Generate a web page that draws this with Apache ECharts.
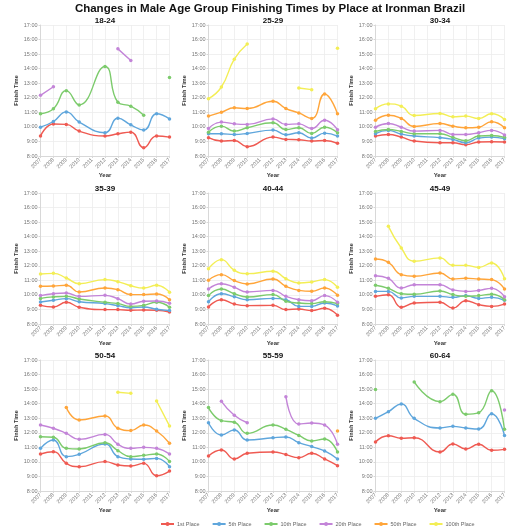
<!DOCTYPE html>
<html><head><meta charset="utf-8">
<script src="https://cdn.jsdelivr.net/npm/echarts@6/dist/echarts.min.js"></script>
<style>html,body{margin:0;padding:0;background:#fff}#c{width:530px;height:530px}</style>
</head><body><div id="c"></div>
<script>
const TITLE = 'Changes in Male Age Group Finishing Times by Place at Ironman Brazil';
const AGE_GROUPS = ['18-24','25-29','30-34','35-39','40-44','45-49','50-54','55-59','60-64'];
const PLACES = ['1st Place','5th Place','10th Place','20th Place','50th Place','100th Place'];
const COLORS = ['#ef5a52','#5fa6dc','#7ccb6c','#c384d8','#ffa53a','#f3ee55'];
const YEAR_TICKS = [2007,2008,2009,2010,2011,2012,2013,2014,2015,2016,2017];
// years with results (no race data in 2011)
const RACE_YEARS = [2007,2008,2009,2010,2012,2013,2014,2015,2016,2017];
const Y_TICKS = [8,9,10,11,12,13,14,15,16,17];

// finish times in hours, rows = places (1st,5th,10th,20th,50th,100th), columns = RACE_YEARS
const T_18_24 = [
  [9.37,10.2,10.17,9.71,9.37,9.53,9.64,8.57,9.37,9.3],
  [9.98,10.37,11.03,10.33,9.6,10.6,10.14,9.78,10.9,10.55],
  [10.9,11.24,12.49,11.51,14.15,11.69,11.42,10.8,null,13.4],
  [12.17,12.76,null,null,null,15.36,14.56,null,null,null],
  [null,null,null,null,null,null,null,null,null,null],
  [null,null,null,null,null,null,null,null,null,null]
];
const T_25_29 = [
  [9.26,9.03,9.07,8.64,9.3,9.14,9.12,9.03,9.07,8.87],
  [9.53,9.53,9.48,9.55,9.78,9.46,9.6,9.23,9.57,9.37],
  [9.64,10.05,9.71,9.94,10.28,9.82,9.94,9.55,9.98,9.6],
  [9.89,10.33,10.21,10.17,10.55,10.17,10.21,9.89,10.46,9.8],
  [10.74,11.01,11.31,11.26,11.76,11.26,10.96,10.58,12.26,10.9],
  [11.94,12.74,14.65,15.7,null,null,12.67,12.56,null,15.4]
];
const T_30_34 = [
  [9.37,9.48,9.3,9.03,8.91,8.91,8.78,8.96,8.98,8.96],
  [9.53,9.76,9.51,9.37,9.26,9.14,8.91,9.23,9.3,9.19],
  [9.69,9.82,9.69,9.53,9.53,9.28,9.05,9.37,9.41,9.28],
  [9.98,10.23,9.98,9.71,9.76,9.48,9.48,9.6,9.76,9.44],
  [10.46,10.8,10.58,10.03,10.23,10.05,9.94,9.98,10.35,9.94],
  [11.24,11.58,11.42,10.78,10.92,10.69,10.74,10.58,10.9,10.51]
];
const T_35_39 = [
  [9.28,9.17,9.49,9.15,8.99,8.99,8.94,8.96,8.94,8.82],
  [9.51,9.63,9.74,9.53,9.4,9.26,9.12,9.17,9.01,8.92],
  [9.76,9.86,9.9,9.72,9.49,9.4,9.21,9.28,9.49,9.15],
  [9.95,10.08,10.13,9.9,9.97,9.74,9.37,9.56,9.58,9.42],
  [10.59,10.61,10.66,10.2,10.47,10.36,10.02,10.02,10.06,9.67],
  [11.44,11.48,11.16,10.77,11.05,10.91,10.63,10.47,10.66,10.18]
];
const T_40_44 = [
  [9.17,9.67,9.37,9.26,9.28,8.99,9.03,8.92,9.08,8.6],
  [9.53,10.08,9.88,9.67,9.76,9.67,9.21,9.21,9.44,9.24],
  [9.95,10.4,10.08,9.86,10.02,9.56,9.44,9.4,9.53,9.4],
  [10.4,10.77,10.52,10.2,10.31,9.9,9.67,9.6,9.95,9.49],
  [11.0,11.39,10.98,10.75,11.09,10.59,10.31,10.25,10.47,9.97],
  [11.8,12.42,11.69,11.46,11.62,11.11,10.82,10.89,11.05,10.52]
];
const T_45_49 = [
  [9.9,10.01,9.15,9.44,9.49,9.1,9.6,9.33,9.21,9.37],
  [10.24,10.24,9.79,9.9,9.9,9.83,9.95,9.76,9.83,9.63],
  [10.66,10.45,10.08,10.04,10.27,10.02,9.9,9.95,10.04,9.67],
  [11.32,11.14,10.47,10.7,10.7,10.34,10.24,10.31,10.45,9.88],
  [12.47,12.24,11.39,11.28,11.5,11.09,11.14,11.09,11.05,10.4],
  [null,14.71,13.22,12.31,12.54,12.03,12.03,11.89,12.19,11.11]
];
const T_50_54 = [
  [10.54,10.7,9.9,9.67,10.02,9.79,9.72,9.9,9.05,9.37],
  [10.93,11.5,10.36,10.52,11.23,10.36,10.2,10.18,10.24,9.67],
  [11.73,11.69,10.93,10.89,11.32,10.77,10.36,10.45,10.54,10.02],
  [12.53,12.31,11.96,11.55,11.89,11.21,10.93,11.0,10.93,10.54],
  [null,null,13.73,12.88,13.15,12.31,12.15,12.53,12.12,11.28],
  [null,null,null,null,null,14.78,14.71,null,14.18,12.47]
];
const T_55_59 = [
  [10.4,10.82,10.2,10.59,10.68,10.5,10.29,10.59,10.2,9.74],
  [12.69,11.85,12.19,11.5,11.66,11.71,11.32,11.05,10.75,10.2],
  [13.73,12.83,12.72,11.96,12.53,12.24,11.82,11.44,11.57,10.68],
  [null,14.16,13.2,12.69,null,14.48,12.6,12.67,12.53,11.21],
  [null,null,null,null,null,null,null,null,null,12.12],
  [null,null,null,null,null,null,null,null,null,null]
];
const T_60_64 = [
  [11.37,11.8,11.62,11.66,10.68,11.23,10.89,11.21,10.8,10.86],
  [12.99,13.45,13.98,12.99,12.33,12.44,12.33,12.26,13.31,11.82],
  [14.98,null,null,15.49,14.14,14.64,13.27,13.38,14.89,12.24],
  [null,null,null,null,null,null,null,null,null,13.56],
  [null,null,null,null,null,null,null,null,null,null],
  [null,null,null,null,null,null,null,null,null,null]
];
const TABLES = [T_18_24,T_25_29,T_30_34,T_35_39,T_40_44,T_45_49,T_50_54,T_55_59,T_60_64];

const FONT = '"Liberation Sans", Arial, Helvetica, sans-serif';
const COL_LEFT = [40.5, 208.5, 375.5];
const ROW_TOP = [25, 193, 360];
const GW = 129, GH = 131;

const grids = [], xAxes = [], yAxes = [], series = [], graphics = [];
AGE_GROUPS.forEach((g, i) => {
  const r = Math.floor(i / 3), c = i % 3;
  grids.push({left: COL_LEFT[c], top: ROW_TOP[r], width: GW, height: GH, containLabel: false});
  xAxes.push({
    type: 'value', gridIndex: i, min: YEAR_TICKS[0], max: YEAR_TICKS[YEAR_TICKS.length-1], interval: 1,
    name: 'Year', nameLocation: 'middle', nameGap: 16,
    nameTextStyle: {fontSize: 6, fontWeight: 'bold', color: '#333', fontFamily: FONT},
    axisLine: {lineStyle: {color: '#d8d8d8'}},
    axisTick: {show: true, length: 2, lineStyle: {color: '#d8d8d8'}},
    axisLabel: {rotate: 45, fontSize: 5.5, color: '#777', margin: 3, fontFamily: FONT, formatter: v => String(v)},
    splitLine: {show: true, lineStyle: {color: '#ececec', width: 0.8}}
  });
  yAxes.push({
    type: 'value', gridIndex: i, min: Y_TICKS[0], max: Y_TICKS[Y_TICKS.length-1], interval: 1,
    name: 'Finish Time', nameLocation: 'middle', nameGap: 21, nameRotate: 90,
    nameTextStyle: {fontSize: 5.5, fontWeight: 'bold', color: '#333', fontFamily: FONT},
    axisLine: {show: true, lineStyle: {color: '#d8d8d8'}},
    axisTick: {show: true, length: 2, lineStyle: {color: '#d8d8d8'}},
    axisLabel: {fontSize: 5.5, color: '#777', margin: 3, fontFamily: FONT, formatter: v => v + ':00'},
    splitLine: {show: true, lineStyle: {color: '#ececec', width: 0.8}}
  });
  graphics.push({type: 'text', x: COL_LEFT[c] + GW / 2, y: ROW_TOP[r] - 4,
    style: {text: g, font: 'bold 8px ' + FONT, fill: '#111', align: 'center', verticalAlign: 'middle', textAlign: 'center', textVerticalAlign: 'middle'}});
  TABLES[i].forEach((vals, p) => {
    series.push({
      name: PLACES[p], type: 'line', xAxisIndex: i, yAxisIndex: i,
      data: RACE_YEARS.map((y, k) => [y, vals[k] == null ? '-' : vals[k]]),
      smooth: 0.5, connectNulls: false, showSymbol: true, symbol: 'circle', symbolSize: 3.5,
      lineStyle: {color: COLORS[p], width: 1.4},
      itemStyle: {color: COLORS[p]},
      emphasis: {disabled: true}, animation: false
    });
  });
});
graphics.push({type: 'text', x: 270, y: 9,
  style: {text: TITLE, font: 'bold 11.5px ' + FONT, fill: '#111', align: 'center', verticalAlign: 'middle', textAlign: 'center', textVerticalAlign: 'middle'}});

const chart = echarts.init(document.getElementById('c'), null, {renderer: 'canvas'});
chart.setOption({
  backgroundColor: '#fff',
  animation: false,
  grid: grids, xAxis: xAxes, yAxis: yAxes, series: series, graphic: graphics,
  legend: {
    data: PLACES, left: 155, top: 516, itemWidth: 13, itemHeight: 5, itemGap: 12,
    textStyle: {fontSize: 5.5, color: '#666', fontFamily: FONT, padding: [0, 0, 0, -2]}
  }
});
</script></body></html>
